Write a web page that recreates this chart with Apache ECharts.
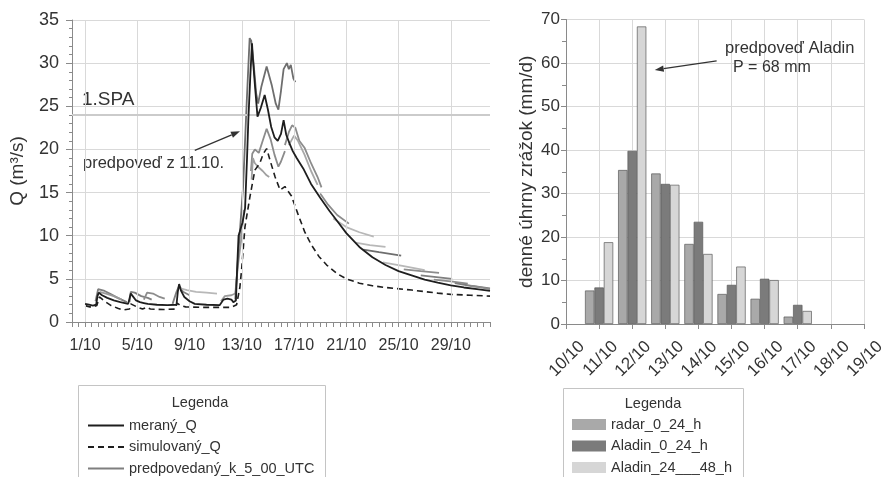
<!DOCTYPE html>
<html>
<head>
<meta charset="utf-8">
<script src="https://cdn.jsdelivr.net/npm/echarts@6/dist/echarts.min.js"></script>
<style>
  html, body { margin: 0; padding: 0; background: #fff; }
  #chart { width: 888px; height: 477px; }
</style>
</head>
<body>
<div id="chart"></div>
<script>
// prietoky Q (m3/s), x = den v mesiaci (1 = 1/10 00:00)
var meranyQ = [
  [1.0,2.1],[1.3,2.0],[1.6,1.9],[1.85,2.0],[1.95,3.0],[2.05,3.4],[2.3,3.1],[2.7,2.8],[3.2,2.5],[3.7,2.3],
  [4.3,2.1],[4.4,2.2],[4.5,3.3],[4.65,3.0],[4.9,2.5],[5.2,2.3],[5.5,2.2],[5.65,2.4],[5.8,2.1],[6.5,2.0],
  [7.3,1.95],[8.0,2.0],[8.1,3.5],[8.2,4.4],[8.35,3.6],[8.6,2.9],[9.0,2.4],[9.4,2.1],[10.3,2.0],[11.3,1.95],
  [11.6,2.6],[11.9,2.7],[12.2,2.6],[12.35,2.3],[12.55,2.5],[12.65,6.5],[12.75,10.0],[12.9,9.8],[13.05,11.5],[13.25,13.2],
  [13.4,19],[13.5,23.4],[13.65,28.5],[13.78,32.3],[13.85,30.5],[14.0,27.5],[14.2,23.8],[14.45,24.8],[14.75,26.3],[15.0,24.6],
  [15.25,22.6],[15.5,21.4],[15.75,21.0],[16.0,21.8],[16.2,23.4],[16.4,21.7],[16.65,20.7],[16.9,19.8],[17.2,19.0],[17.7,17.8],
  [18.3,16.0],[19.0,14.4],[19.7,12.9],[20.3,11.7],[21.0,10.3],[22.0,8.7],[23.0,7.5],[24.0,6.6],[25.0,5.9],[26.0,5.4],
  [27.0,4.9],[28.0,4.55],[29.0,4.25],[30.0,4.0],[31.0,3.8],[32.0,3.6]
];
var simulovanyQ = [
  [1.0,1.9],[1.5,1.7],[1.9,1.9],[2.1,2.9],[2.5,2.4],[3.0,1.9],[3.5,1.6],[3.9,1.4],[4.4,1.5],[4.5,2.1],
  [4.9,1.8],[5.4,1.5],[5.7,1.7],[6.0,1.5],[7.0,1.45],[7.9,1.5],[8.05,2.2],[8.3,1.9],[8.7,1.75],[10.0,1.7],
  [11.0,1.7],[12.2,1.7],[12.6,2.0],[12.85,4.0],[12.98,6.0],[13.24,11.0],[13.62,14.5],[14.0,17.6],[14.38,18.4],[14.64,19.5],
  [14.9,20.1],[15.15,18.8],[15.55,16.8],[15.93,15.3],[16.3,15.7],[16.8,14.6],[17.3,12.5],[17.8,10.5],[18.3,9.0],[18.9,7.6],
  [19.5,6.6],[20.3,5.6],[21.0,5.0],[22.0,4.5],[23.0,4.2],[24.0,4.0],[26.0,3.7],[28.0,3.35],[29.0,3.2],[30.5,3.1],[32.0,3.0]
];
// predpovede vydane k 5:00 UTC (jednotlive behy)
var predpovede = [
  [[1.8,2.4],[2.0,3.8],[2.1,4.0],[2.5,3.6],[3.0,3.2],[3.5,2.8],[4.2,2.3]],
  [[2.1,3.5],[2.6,3.3],[3.2,3.0],[3.8,2.6]],
  [[4.4,2.3],[4.5,3.5],[4.8,3.4],[5.3,3.0],[5.8,2.8],[6.1,2.6]],
  [[5.5,2.6],[5.75,3.4],[6.2,3.3],[6.7,2.9],[7.1,2.7]],
  [[7.7,2.1],[8.0,3.5],[8.2,4.2],[8.5,3.5],[9.0,3.1]],
  [[8.3,3.9],[8.8,3.7],[9.5,3.5],[10.3,3.4],[11.1,3.3]],
  [[11.4,2.4],[11.7,3.0],[12.2,3.1],[12.5,3.3],[12.7,6.5],[12.95,9.5],[13.15,13.0]],
  [[12.5,2.6],[12.73,7.9],[13.1,15.7],[13.37,25.3],[13.6,32.9],[13.72,32.6],[13.9,30.0],[14.1,26.5],[14.25,25.3],[14.5,27.3],
   [14.9,29.6],[15.3,27.4],[15.6,25.3],[15.8,24.6],[16.0,26.8],[16.2,29.3],[16.45,30.0],[16.6,29.3],[16.75,29.8],[16.95,28.2],[17.1,27.8]],
  [[13.7,17.5],[13.8,19.5],[14.0,20.0],[14.3,19.6],[14.6,21.0],[14.9,22.4],[15.2,21.2],[15.5,19.4],[15.8,18.0],[16.0,18.6],[16.3,19.8]],
  [[13.75,16.5],[13.85,19.0],[14.0,18.4],[14.3,17.9],[14.6,17.5],[14.9,17.0],[15.1,16.8]],
  [[16.3,20.5],[16.6,22.0],[16.85,22.8],[17.1,22.5],[17.4,21.0],[17.8,20.2],[18.3,18.4],[18.8,16.8],[19.1,15.6]],
  [[16.6,20.5],[17.0,21.6],[17.3,21.0],[17.8,19.4],[18.3,17.5],[18.8,15.9]],
  [[19.0,14.9],[19.6,13.6],[20.3,12.4],[21.2,11.4]],
  [[20.0,12.0],[21.0,11.0],[22.0,10.4],[23.1,9.9]],
  [[21.7,9.2],[22.8,8.9],[24.0,8.7]],
  [[22.3,8.4],[23.5,8.1],[25.2,7.7]],
  [[23.8,6.9],[25.3,6.5],[27.0,6.0]],
  [[25.4,6.1],[26.7,5.9],[28.1,5.7]],
  [[26.7,5.4],[27.9,5.2],[29.1,5.0]],
  [[27.7,4.9],[29.0,4.7],[30.3,4.45]],
  [[29.3,4.5],[30.5,4.2],[32.0,3.9]],
  [[30.5,4.2],[31.3,4.0],[32.0,3.8]]
];
var odtiene = ['#7f7f7f','#9a9a9a','#7f7f7f','#8c8c8c','#7f7f7f','#b8b8b8','#9a9a9a','#6e6e6e','#8c8c8c','#a0a0a0','#8c8c8c','#a8a8a8',
  '#8c8c8c','#b8b8b8','#b8b8b8','#6e6e6e','#b8b8b8','#8c8c8c','#7f7f7f','#8c8c8c','#7f7f7f','#8c8c8c'];

var spa1 = 24;
var dniPopis = [1, 5, 9, 13, 17, 21, 25, 29];

// denne uhrny zrazok (mm/d)
var dni = ['10/10','11/10','12/10','13/10','14/10','15/10','16/10','17/10','18/10','19/10'];
var radar = [null, 7.7, 35.4, 34.6, 18.4, 6.9, 5.8, 1.7, null, null];
var aladin0 = [null, 8.4, 39.8, 32.2, 23.5, 9.0, 10.4, 4.4, null, null];
var aladin24 = [null, 18.8, 68.4, 32.0, 16.1, 13.2, 10.1, 3.0, null, null];

var font = 'Liberation Sans';
var gridLine = '#d9d9d9';
var axisGray = '#8a8a8a';
var chart = echarts.init(document.getElementById('chart'));

var seriesList = [
  {
    // zvisle mriezky laveho grafu
    name: 'mriezka', type: 'line', xAxisIndex: 0, yAxisIndex: 0, data: [], z: 1, silent: true,
    markLine: {
      silent: true, symbol: 'none', label: { show: false },
      lineStyle: { type: 'solid', color: gridLine, width: 1 },
      data: dniPopis.map(function (d) { return { xAxis: d }; })
    }
  },
  {
    name: 'meraný_Q', type: 'line', xAxisIndex: 0, yAxisIndex: 0, data: meranyQ,
    symbol: 'none', color: '#1e1e1e', lineStyle: { width: 1.8, color: '#1e1e1e' }, z: 5
  },
  {
    name: 'simulovaný_Q', type: 'line', xAxisIndex: 0, yAxisIndex: 0, data: simulovanyQ,
    symbol: 'none', color: '#1e1e1e', lineStyle: { width: 1.6, type: [6, 4], color: '#1e1e1e' }, z: 4,
    markLine: {
      silent: true, symbol: 'none', label: { show: false },
      lineStyle: { type: 'solid', color: '#cbcbcb', width: 2 },
      data: [{ yAxis: spa1 }]
    }
  }
];
predpovede.forEach(function (run, i) {
  seriesList.push({
    name: 'predpovedaný_k_5_00_UTC', type: 'line', xAxisIndex: 0, yAxisIndex: 0, data: run,
    symbol: 'none', color: odtiene[i],
    lineStyle: { width: 1.8, color: odtiene[i] }, z: 3
  });
});
var barStyle = { borderColor: '#5a5a5a', borderWidth: 0.7 };
seriesList.push(
  { name: 'radar_0_24_h', type: 'bar', xAxisIndex: 1, yAxisIndex: 1, data: radar, barWidth: 9.4, barGap: '0%',
    itemStyle: Object.assign({ color: '#a9a9a9' }, barStyle) },
  { name: 'Aladin_0_24_h', type: 'bar', xAxisIndex: 1, yAxisIndex: 1, data: aladin0, barWidth: 9.4, barGap: '0%',
    itemStyle: Object.assign({ color: '#7b7b7b' }, barStyle) },
  { name: 'Aladin_24___48_h', type: 'bar', xAxisIndex: 1, yAxisIndex: 1, data: aladin24, barWidth: 9.4, barGap: '0%',
    itemStyle: Object.assign({ color: '#d6d6d6' }, barStyle) }
);

chart.setOption({
  animation: false,
  textStyle: { fontFamily: font },
  grid: [
    { left: 72, top: 20, right: 398, bottom: 155 },
    { left: 566, top: 19.5, right: 18, bottom: 153 }
  ],
  xAxis: [
    {
      type: 'value', gridIndex: 0, min: 0, max: 32, interval: 1,
      axisLine: { lineStyle: { color: axisGray } },
      axisTick: { length: 5, lineStyle: { color: axisGray } },
      minorTick: { show: true, splitNumber: 2, length: 5, lineStyle: { color: axisGray } },
      axisLabel: {
        fontSize: 16, color: '#333', margin: 16,
        formatter: function (v) { return (v % 4 === 1) ? v + '/10' : ''; }
      },
      splitLine: { show: false }
    },
    {
      type: 'category', gridIndex: 1, data: dni, boundaryGap: false,
      axisLine: { lineStyle: { color: axisGray } },
      axisTick: { length: 5, interval: 0, lineStyle: { color: axisGray } },
      axisLabel: {
        rotate: 45, fontSize: 17, color: '#333', margin: 4, interval: 0,
        verticalAlign: 'top', padding: [14, 0, 0, 0]
      },
      splitLine: { show: true, interval: 0, lineStyle: { color: gridLine } }
    }
  ],
  yAxis: [
    {
      type: 'value', gridIndex: 0, min: 0, max: 35, interval: 5,
      name: 'Q (m³/s)', nameLocation: 'middle', nameGap: 45,
      nameTextStyle: { fontSize: 19, color: '#333' },
      axisLine: { show: true, lineStyle: { color: axisGray } },
      axisTick: { show: true, length: 6, lineStyle: { color: axisGray } },
      minorTick: { show: true, splitNumber: 5, length: 3, lineStyle: { color: axisGray } },
      axisLabel: { fontSize: 18, color: '#333', margin: 13 },
      splitLine: { lineStyle: { color: gridLine } }
    },
    {
      type: 'value', gridIndex: 1, min: 0, max: 70, interval: 10,
      name: 'denné úhrny zrážok (mm/d)', nameLocation: 'middle', nameGap: 30,
      nameTextStyle: { fontSize: 19, color: '#333' },
      axisLine: { show: true, lineStyle: { color: axisGray } },
      axisTick: { show: true, length: 5, lineStyle: { color: axisGray } },
      minorTick: { show: true, splitNumber: 2, length: 4, lineStyle: { color: axisGray } },
      axisLabel: { fontSize: 17, color: '#333', margin: 6 },
      splitLine: { lineStyle: { color: gridLine } }
    }
  ],
  legend: [
    {
      data: ['meraný_Q', 'simulovaný_Q', 'predpovedaný_k_5_00_UTC'],
      orient: 'vertical', left: 87, top: 418, padding: 0,
      itemWidth: 36, itemHeight: 14, itemGap: 6.5, selectedMode: false,
      itemStyle: { opacity: 0 },
      textStyle: { fontSize: 14.5, color: '#333', lineHeight: 14 }
    },
    {
      data: ['radar_0_24_h', 'Aladin_0_24_h', 'Aladin_24___48_h'],
      orient: 'vertical', left: 572, top: 417, padding: 0, icon: 'rect',
      itemWidth: 34, itemHeight: 11, itemGap: 6.5, selectedMode: false,
      itemStyle: { borderWidth: 0 },
      textStyle: { fontSize: 14.5, color: '#333', lineHeight: 14 }
    }
  ],
  series: seriesList
});

// sipky a popisy
function arrow(p0, p1) {
  var ang = Math.atan2(p1[1] - p0[1], p1[0] - p0[0]);
  var L = 9, W = 3.2;
  var bx = p1[0] - L * Math.cos(ang), by = p1[1] - L * Math.sin(ang);
  return [
    { type: 'line', silent: true, shape: { x1: p0[0], y1: p0[1], x2: bx, y2: by }, style: { stroke: '#333', lineWidth: 1.3 } },
    { type: 'polygon', silent: true, shape: { points: [p1,
        [bx - W * Math.sin(ang), by + W * Math.cos(ang)],
        [bx + W * Math.sin(ang), by - W * Math.cos(ang)]] }, style: { fill: '#333' } }
  ];
}
function catPoint(i, v) {
  var k = Math.floor(i), f = i - k;
  var a = chart.convertToPixel({ xAxisIndex: 1, yAxisIndex: 1 }, [dni[k], v]);
  var b = chart.convertToPixel({ xAxisIndex: 1, yAxisIndex: 1 }, [dni[k + 1], v]);
  return [a[0] + (b[0] - a[0]) * f, a[1]];
}
function label(text, x, y, size) {
  return { type: 'text', silent: true, x: x, y: y,
    style: { text: text, fill: '#333', font: size + 'px ' + font, verticalAlign: 'middle' } };
}

var g = [];
g = g.concat(arrow(
  chart.convertToPixel({ xAxisIndex: 0, yAxisIndex: 0 }, [9.4, 19.9]),
  chart.convertToPixel({ xAxisIndex: 0, yAxisIndex: 0 }, [12.86, 22.1])
));
g = g.concat(arrow(catPoint(4.55, 60.5), catPoint(2.68, 58.4)));
g.push(label('1.SPA', 82, 100, 19));
g.push(label('predpoveď z 11.10.', 83, 163, 16.5));
g.push(label('predpoveď Aladin', 725, 48, 16.5));
g.push(label('P = 68 mm', 733, 68, 16));
g.push({ type: 'rect', silent: true, shape: { x: 78.5, y: 385.5, width: 247, height: 120 },
  style: { fill: 'none', stroke: '#c4c4c4', lineWidth: 1 } });
g.push({ type: 'rect', silent: true, shape: { x: 563.5, y: 388.5, width: 180, height: 120 },
  style: { fill: 'none', stroke: '#c4c4c4', lineWidth: 1 } });
g.push({ type: 'text', silent: true, x: 200, y: 403,
  style: { text: 'Legenda', fill: '#333', font: '14.5px ' + font, align: 'center', verticalAlign: 'middle' } });
g.push({ type: 'text', silent: true, x: 653, y: 404,
  style: { text: 'Legenda', fill: '#333', font: '14.5px ' + font, align: 'center', verticalAlign: 'middle' } });

chart.setOption({ graphic: g });
</script>
</body>
</html>
